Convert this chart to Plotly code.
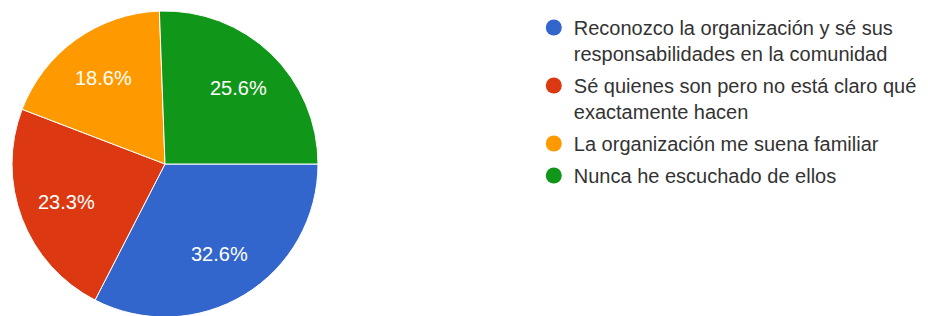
import math
import plotly.graph_objects as go

labels = [
    "Reconozco la organización y sé sus<br>responsabilidades en la comunidad",
    "Sé quienes son pero no está claro qué<br>exactamente hacen",
    "La organización me suena familiar",
    "Nunca he escuchado de ellos",
]
counts = [14, 10, 8, 11]
colors = ["#3366cc", "#dc3912", "#ff9900", "#109618"]

FONT = "Liberation Sans, Arial, sans-serif"
W, H = 928, 316
OFF = 8  # the page body margin shifts the figure by 8 px
CX, CY, R = 165 - OFF, 164 - OFF, 153  # pie centre / radius in figure pixels
LABEL_R = 0.69

fig = go.Figure()
fig.add_trace(go.Pie(
    labels=labels,
    values=counts,
    sort=False,
    direction="clockwise",
    rotation=90,
    marker=dict(colors=colors, line=dict(color="white", width=1)),
    textinfo="none",
    showlegend=False,
    hoverinfo="label+percent",
    domain=dict(
        x=[(CX - R) / W, (CX + R) / W],
        y=[max(0.0, 1 - (CY + R) / H), min(1.0, 1 - (CY - R) / H)],
    ),
))

# percentage labels placed at the middle angle of each slice
total = sum(counts)
cum = 0.0
for v in counts:
    frac = v / total
    theta = 2 * math.pi * (cum + frac / 2)
    cum += frac
    px = CX + LABEL_R * R * math.cos(theta)
    py = CY + LABEL_R * R * math.sin(theta)
    fig.add_annotation(
        x=px / W, y=1 - py / H, xref="paper", yref="paper",
        xanchor="center", yanchor="middle",
        text=f"{frac * 100:.1f}%", showarrow=False,
        font=dict(color="white", size=20, family=FONT),
    )

for i, (lab, col) in enumerate(zip(labels, colors)):
    fig.add_trace(go.Scatter(
        x=[None], y=[None], mode="markers", name=lab,
        legendgroup=f"g{i}",
        marker=dict(color=col, size=16, symbol="circle"),
        showlegend=True,
    ))

fig.update_layout(
    width=W, height=H,
    margin=dict(l=0, r=0, t=0, b=0),
    paper_bgcolor="white", plot_bgcolor="white",
    xaxis=dict(visible=False), yaxis=dict(visible=False),
    legend=dict(
        x=0.5666, y=1.0, xanchor="left", yanchor="top",
        font=dict(size=20, color="#333333", family=FONT),
        valign="top",
        tracegroupgap=3,
        bgcolor="rgba(0,0,0,0)",
    ),
)

fig.write_html("out.html")
